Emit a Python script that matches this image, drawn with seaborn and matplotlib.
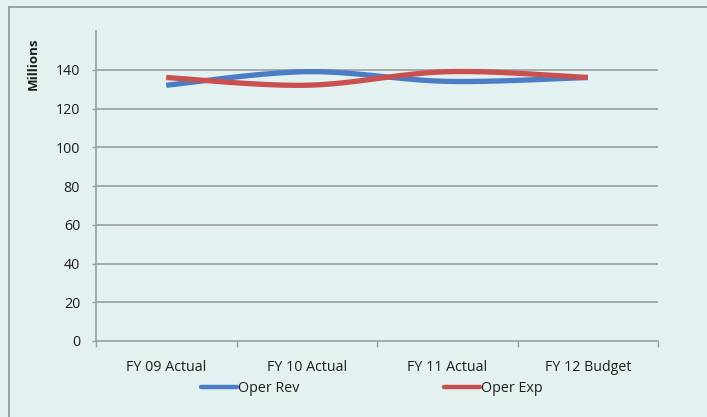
import numpy as np
import pandas as pd
import matplotlib
matplotlib.use("Agg")
import matplotlib.pyplot as plt
from matplotlib.lines import Line2D
import seaborn as sns

# Data (millions)
categories = ["FY 09 Actual", "FY 10 Actual", "FY 11 Actual", "FY 12 Budget"]
oper_rev = [132, 139, 134, 136]
oper_exp = [136, 132, 139, 136]
series_names = ["Oper Rev", "Oper Exp"]
y_ticks = [0, 20, 40, 60, 80, 100, 120, 140]

BG = "#e3f1f1"
BLUE = "#4a7dc6"
RED = "#c9504f"
GRID = "#9a9e9e"
TEXT = "#1e1e1e"


def smooth(xs, ys, n=60):
    """Catmull-Rom style smoothed curve through the points (like a smoothed line chart)."""
    xs = np.asarray(xs, float)
    ys = np.asarray(ys, float)
    px = np.concatenate([[xs[0]], xs, [xs[-1]]])
    py = np.concatenate([[ys[0]], ys, [ys[-1]]])
    out_x, out_y = [], []
    for i in range(1, len(px) - 2):
        p0, p1, p2, p3 = [np.array([px[j], py[j]]) for j in (i - 1, i, i + 1, i + 2)]
        c1 = p1 + (p2 - p0) / 6.0
        c2 = p2 - (p3 - p1) / 6.0
        t = np.linspace(0, 1, n)[:, None]
        b = ((1 - t) ** 3) * p1 + 3 * ((1 - t) ** 2) * t * c1 + 3 * (1 - t) * t ** 2 * c2 + t ** 3 * p2
        out_x.extend(b[:, 0])
        out_y.extend(b[:, 1])
    return np.array(out_x), np.array(out_y)


sns.set_theme(style="white")
plt.rcParams["font.family"] = ["Open Sans", "DejaVu Sans"]

fig = plt.figure(figsize=(7.07, 4.17), dpi=100)
fig.patch.set_facecolor(BG)

# outer chart frame (top and left edges visible)
fx, fy = 9 / 707, 1 - 7 / 417
fig.lines.append(Line2D([fx, 1.0], [fy, fy], transform=fig.transFigure,
                        color="#8e9494", linewidth=1.2))
fig.lines.append(Line2D([fx, fx], [0, fy], transform=fig.transFigure,
                        color="#8e9494", linewidth=1.2))

ax = fig.add_axes([96 / 707, (417 - 341) / 417, (658 - 96) / 707, (341 - 31) / 417])
ax.set_facecolor(BG)

pos = np.arange(len(categories)) + 0.5
frames = []
for name, vals in zip(series_names, [oper_rev, oper_exp]):
    sx, sy = smooth(pos, vals)
    frames.append(pd.DataFrame({"x": sx, "y": sy, "series": name}))
df = pd.concat(frames, ignore_index=True)

sns.lineplot(data=df, x="x", y="y", hue="series", palette=[BLUE, RED],
             sort=False, estimator=None, units="series", linewidth=3.8,
             solid_capstyle="butt", legend=False, ax=ax)
ax.set_xlabel("")
ax.set_ylabel("")

ax.set_xlim(0, len(categories))
ax.set_ylim(0, 160)
ax.set_yticks(y_ticks)
ax.set_yticklabels([str(v) for v in y_ticks])
for v in y_ticks[1:]:
    ax.axhline(v, color=GRID, linewidth=1.2, zorder=0.5)

# category boundaries as ticks, labels centered between them
ax.set_xticks(np.arange(len(categories) + 1))
ax.set_xticklabels([])
ax.set_xticks(pos, minor=True)
ax.set_xticklabels(categories, minor=True)
ax.tick_params(axis="x", which="major", bottom=True, length=4, width=1, color=GRID, direction="out")
ax.tick_params(axis="x", which="minor", bottom=True, length=0, pad=14, labelsize=10.3, labelcolor=TEXT)
ax.tick_params(axis="y", left=True, length=3, width=1, color=GRID, direction="out", pad=8.5,
               labelsize=10.3, labelcolor=TEXT)

for s in ("top", "right"):
    ax.spines[s].set_visible(False)
for s in ("left", "bottom"):
    ax.spines[s].set_color(GRID)
    ax.spines[s].set_linewidth(1.2)

fig.text(33 / 707, 1 - 64 / 417, "Millions", rotation=90, ha="center", va="center",
         fontsize=9.5, fontweight="bold", color=TEXT)

handles = [Line2D([], [], color=BLUE, linewidth=3.2),
           Line2D([], [], color=RED, linewidth=3.2)]
fig.legend(handles, series_names, loc="center", ncol=2,
           bbox_to_anchor=(372 / 707, 1 - 389 / 417), frameon=False,
           handlelength=2.5, handletextpad=0.1, columnspacing=10.1,
           fontsize=10.3, labelcolor=TEXT)

fig.savefig("out.png", dpi=100, facecolor=BG)
